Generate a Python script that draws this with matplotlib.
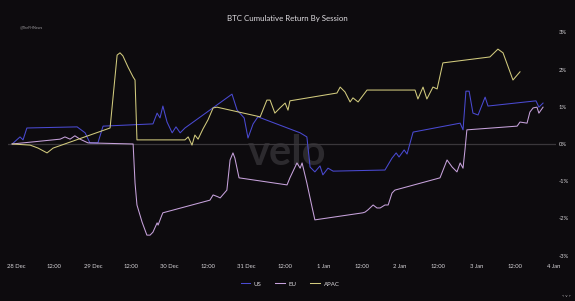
import matplotlib
matplotlib.use("Agg")
import matplotlib.pyplot as plt
from matplotlib.lines import Line2D

# ---- data (hours since 28 Dec 00:00, cumulative return in %) ----
us_hours = [-1.2, 1.25, 2.2, 3.4, 19.1, 21.6, 23.1, 25.6, 27.2, 42.8, 44.1, 45.0, 45.9, 47.2,
            48.8, 50.0, 51.3, 52.8, 67.5, 69.1, 71.3, 72.5, 74.1, 75.6, 88.8, 90.9, 91.9,
            93.4, 95.0, 95.9, 97.5, 99.1, 115.3, 117.5, 118.8, 119.7, 121.3, 122.2, 124.1,
            138.8, 139.7, 140.6, 141.6, 142.8, 144.4, 146.6, 147.5, 162.5, 163.4, 164.7]
us_vals = [0.0, 0.19, 0.11, 0.43, 0.46, 0.30, 0.03, 0.03, 0.48, 0.54, 0.83, 0.70, 1.02, 0.59,
           0.30, 0.46, 0.30, 0.43, 1.34, 0.91, 0.70, 0.16, 0.54, 0.73, 0.30, 0.19, -0.62,
           -0.75, -0.59, -0.83, -0.65, -0.73, -0.70, -0.38, -0.24, -0.35, -0.16, -0.27, 0.32,
           0.56, 0.38, 1.42, 1.42, 0.83, 0.78, 1.26, 1.02, 1.16, 0.99, 1.10]

eu_hours = [-1.2, 13.8, 15.3, 16.9, 18.4, 20.0, 22.5, 36.6, 37.2, 37.8, 39.4, 40.9, 41.9, 42.8,
            44.1, 44.4, 45.6, 45.9, 60.6, 61.6, 63.1, 63.8, 65.9, 66.9, 67.8, 68.4, 69.7,
            84.7, 85.6, 87.8, 88.8, 89.4, 90.9, 92.5, 93.4, 108.4, 109.1, 110.0, 111.6,
            112.8, 113.8, 115.3, 116.3, 117.5, 118.4, 132.5, 134.7, 136.3, 137.8, 138.8,
            139.7, 140.3, 140.9, 156.6, 157.5, 159.7, 160.6, 161.6, 162.8, 163.4, 164.7]
eu_vals = [0.0, 0.13, 0.19, 0.13, 0.22, 0.13, 0.03, 0.0, -1.05, -1.64, -2.10, -2.45, -2.45, -2.37,
           -2.12, -2.18, -1.91, -1.85, -1.51, -1.37, -1.42, -1.45, -1.24, -0.43, -0.24, -0.38,
           -0.91, -1.10, -0.91, -0.51, -0.65, -0.51, -1.05, -1.69, -2.04, -1.85, -1.83, -1.77,
           -1.64, -1.72, -1.72, -1.64, -1.64, -1.32, -1.24, -0.91, -0.43, -0.62, -0.75, -0.51,
           -0.65, -0.16, 0.38, 0.48, 0.59, 0.56, 0.86, 0.97, 0.99, 0.83, 0.99]

apac_hours = [-1.2, 4.4, 6.9, 9.7, 11.6, 29.4, 31.6, 32.5, 33.4, 35.0, 36.6, 37.2, 37.8, 52.8,
              53.8, 55.0, 55.9, 56.9, 58.4, 60.0, 61.6, 62.8, 76.3, 78.4, 79.4, 80.9, 82.5,
              84.1, 85.0, 85.6, 100.3, 101.3, 102.8, 104.4, 105.3, 106.9, 109.7, 124.7, 125.6,
              127.2, 128.4, 130.3, 131.6, 133.4, 148.1, 150.6, 152.2, 155.3, 157.5]
apac_vals = [0.0, -0.03, -0.11, -0.24, -0.11, 0.43, 2.39, 2.45, 2.37, 2.07, 1.80, 1.72, 0.11, 0.11,
             0.19, -0.03, 0.24, 0.13, 0.40, 0.65, 0.97, 0.99, 0.73, 1.18, 1.18, 0.83, 0.97,
             1.10, 0.91, 1.16, 1.37, 1.53, 1.40, 1.13, 1.24, 1.13, 1.45, 1.45, 1.21,
             1.53, 1.21, 1.53, 1.48, 2.18, 2.34, 2.55, 2.45, 1.72, 1.94]

tick_hours = list(range(0, 169, 12))
tick_labels = ["28 Dec", "12:00", "29 Dec", "12:00", "30 Dec", "12:00", "31 Dec", "12:00",
               "1 Jan", "12:00", "2 Jan", "12:00", "3 Jan", "12:00", "4 Jan"]
y_ticks = [3, 2, 1, 0, -1, -2, -3]
y_labels = ["3%", "2%", "1%", "0%", "-1%", "-2%", "-3%"]

series_names = ["US", "EU", "APAC"]
colors = ["#4a4ad2", "#c7a2dc", "#d2cb7e"]

plt.rcParams['font.family'] = ['Lato', 'DejaVu Sans']
bg = "#0d0b0e"
fig = plt.figure(figsize=(5.75, 3.01), dpi=100, facecolor=bg)
ax = fig.add_axes([8 / 575, 43 / 301, 548 / 575, 230 / 301], facecolor=bg)

ax.axhline(0, color="#3a373b", lw=0.9, zorder=1)
for h, v, c, n in zip([us_hours, eu_hours, apac_hours], [us_vals, eu_vals, apac_vals], colors, series_names):
    ax.plot(h, v, color=c, lw=0.75, label=n, zorder=3)

ax.set_xlim(-2.5, 168.75)
ax.set_ylim(-3.065, 3.118)
ax.set_xticks(tick_hours)
ax.set_xticklabels(tick_labels)
ax.yaxis.tick_right()
ax.set_yticks(y_ticks)
ax.set_yticklabels(y_labels)
ax.tick_params(axis="both", length=0, colors="#d8d6da", labelsize=4.2)
ax.tick_params(axis="x", pad=4)
ax.tick_params(axis="y", pad=2)
for s in ax.spines.values():
    s.set_visible(False)

fig.text(0.5, 1 - 18 / 301, "BTC Cumulative Return By Session", ha="center", va="center",
         color="#e0dee2", fontsize=5.7)
fig.text(20 / 575, 1 - 27 / 301, "@TheFHNews", ha="left", va="center", color="#9a989c", fontsize=2.6)
ax.text(287 / 575, 1 - 153 / 301, "velo", transform=fig.transFigure, ha="center", va="center",
        color="#2c2a2e", fontsize=30, fontweight="bold", zorder=0)
fig.text(566 / 575, 1 - 296 / 301, "< v >", ha="center", va="center", color="#c8c6ca", fontsize=3)

handles = [Line2D([0], [0], color=c, lw=0.75) for c in colors]
leg = fig.legend(handles, series_names, loc="center", bbox_to_anchor=(290 / 575, 1 - 284 / 301),
                 ncol=3, frameon=False, fontsize=4.4, handlelength=1.6, handletextpad=0.6,
                 columnspacing=2.2, labelcolor="#d8d6da")

fig.savefig("out.png", dpi=100, facecolor=bg)
